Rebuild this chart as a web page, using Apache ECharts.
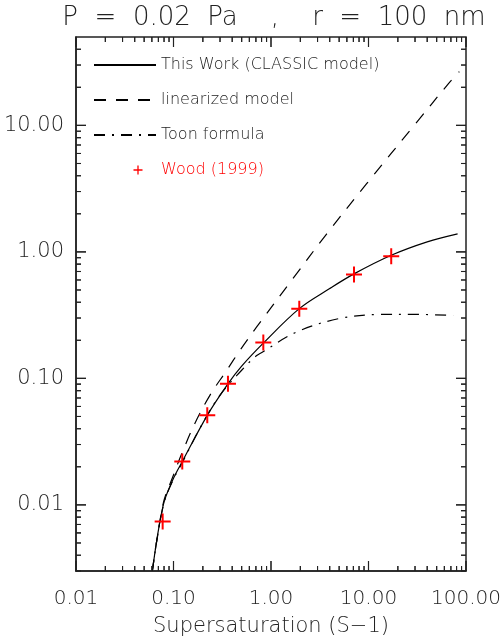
<!DOCTYPE html>
<html><head><meta charset="utf-8">
<script src="https://cdn.jsdelivr.net/npm/echarts@6/dist/echarts.min.js"></script>
<style>html,body{margin:0;padding:0;background:#fff}#c{width:502px;height:641px}</style>
</head><body><div id="c"></div><script>
// ---- data ----
const xMajorTicks = [0.01, 0.1, 1, 10, 100];
const xMinorTicks = [0.02,0.03,0.04,0.05,0.06,0.07,0.08,0.09, 0.2,0.3,0.4,0.5,0.6,0.7,0.8,0.9, 2,3,4,5,6,7,8,9, 20,30,40,50,60,70,80,90];
const yMajorTicks = [0.01, 0.1, 1, 10];
const yMinorTicks = [0.003,0.004,0.005,0.006,0.007,0.008,0.009, 0.02,0.03,0.04,0.05,0.06,0.07,0.08,0.09, 0.2,0.3,0.4,0.5,0.6,0.7,0.8,0.9, 2,3,4,5,6,7,8,9, 20,30,40];

const classicX = [0.0607, 0.0786, 0.1, 0.123, 0.222, 0.36, 0.5, 0.834, 1.95, 4, 7.1, 17.1, 40, 82];
const classicY = [0.003, 0.01, 0.0162, 0.022, 0.051, 0.09, 0.125, 0.19, 0.356, 0.513, 0.67, 0.94, 1.2, 1.39];

const linearX = [0.0607, 0.0786, 0.1, 0.123, 0.166, 0.237, 0.352, 0.481, 0.713, 1.69, 3.73, 9.57, 30, 65.8, 85.4];
const linearY = [0.003, 0.0103, 0.0172, 0.026, 0.0442, 0.0738, 0.116, 0.167, 0.255, 0.62, 1.39, 3.46, 10.2, 21.3, 26.6];

const toonX = [0.0607, 0.0786, 0.1, 0.123, 0.187, 0.3, 0.5, 0.686, 0.771, 1.84, 5.1, 13.1, 28.8, 74];
const toonY = [0.003, 0.0099, 0.016, 0.0215, 0.0405, 0.0738, 0.116, 0.148, 0.157, 0.233, 0.298, 0.320, 0.321, 0.314];

const woodX = [0.0774, 0.123, 0.222, 0.362, 0.834, 1.95, 7.1, 17.1];
const woodY = [0.00738, 0.0220, 0.0511, 0.0906, 0.192, 0.356, 0.662, 0.923];

const seriesNames = ['This Work (CLASSIC model)', 'linearized model', 'Toon formula', 'Wood (1999)'];
const titleText = 'P  =  0.02  Pa    ,    r  =  100  nm';
const xName = 'Supersaturation (S\u22121)';

// ---- chart ----
const FONT = 'DejaVu Sans';
const FW = 200;
const AX = '#222';
const X_MIN = 0.01, X_MAX = 100, Y_MIN = 0.003, Y_MAX = 50;
const MAJOR_LEN = 10, MINOR_LEN = 5;
const pairs = (xs, ys) => xs.map((x, i) => [x, ys[i]]);

const woodIcon = 'path://M0,0L0.01,0L0,0.01Z M62,14L61.99,14L62,13.99Z M39.5,6.35H48.5V7.65H39.5Z M43.35,2.5H44.65V11.5H43.35Z';
const plusSymbol = 'path://M0,7H16V9H0Z M7,0H9V16H7Z';
const HIDE = 'rgba(0,0,0,0)';

const baseSeries = [
  { name: seriesNames[0], type: 'line', data: pairs(classicX, classicY), symbol: 'none', smooth: 0.35,
    lineStyle: { color: '#000', width: 1.2, type: 'solid' }, itemStyle: { color: HIDE } },
  { name: seriesNames[1], type: 'line', data: pairs(linearX, linearY), symbol: 'none', smooth: 0.35,
    lineStyle: { color: '#000', width: 1.2, type: [12, 10] }, itemStyle: { color: HIDE } },
  { name: seriesNames[2], type: 'line', data: pairs(toonX, toonY), symbol: 'none', smooth: 0.35,
    lineStyle: { color: '#000', width: 1.2, type: [11, 7, 2, 7] }, itemStyle: { color: HIDE } },
  { name: seriesNames[3], type: 'scatter', data: pairs(woodX, woodY), symbol: plusSymbol, symbolSize: 16,
    itemStyle: { color: '#ff0000', opacity: 1 }, z: 5 }
];

const chart = echarts.init(document.getElementById('c'), null, { renderer: 'canvas' });
chart.setOption({
  animation: false,
  backgroundColor: '#fff',
  title: {
    text: titleText, left: 269, textAlign: 'center', top: 0,
    textStyle: { color: '#222', fontFamily: FONT, fontWeight: FW, fontSize: 26 }
  },
  grid: { left: 76, right: 36, top: 37, bottom: 70, outerBoundsMode: 'none',
          show: true, borderColor: AX, borderWidth: 1.5, backgroundColor: 'transparent' },
  legend: {
    orient: 'vertical', left: 88, top: 52, itemWidth: 62, itemHeight: 14, itemGap: 19,
    selectedMode: false,
    textStyle: { color: '#222', fontFamily: FONT, fontWeight: FW, fontSize: 16 },
    data: [
      { name: seriesNames[0] },
      { name: seriesNames[1] },
      { name: seriesNames[2] },
      { name: seriesNames[3], icon: woodIcon, textStyle: { color: '#ff0000' } }
    ]
  },
  xAxis: {
    type: 'log', logBase: 10, min: X_MIN, max: X_MAX,
    axisLine: { show: true, onZero: false, lineStyle: { color: AX, width: 1.5 } },
    axisTick: { show: false },
    axisLabel: {
      show: true, customValues: xMajorTicks, margin: 18,
      formatter: v => Number(v).toFixed(2),
      color: '#222', fontFamily: FONT, fontWeight: FW, fontSize: 20
    },
    splitLine: { show: false }, minorTick: { show: false },
    name: xName, nameLocation: 'middle', nameGap: 45,
    nameTextStyle: { color: '#222', fontFamily: FONT, fontWeight: FW, fontSize: 21 }
  },
  yAxis: {
    type: 'log', logBase: 10, min: Y_MIN, max: Y_MAX,
    axisLine: { show: true, onZero: false, lineStyle: { color: AX, width: 1.5 } },
    axisTick: { show: false },
    axisLabel: {
      show: true, customValues: yMajorTicks, margin: 12,
      formatter: v => Number(v).toFixed(2),
      color: '#222', fontFamily: FONT, fontWeight: FW, fontSize: 21
    },
    splitLine: { show: false }, minorTick: { show: false }
  },
  series: baseSeries
});

// ---- inward tick marks on all four sides, placed through the axes' own scales ----
const finder = { xAxisIndex: 0, yAxisIndex: 0 };
let cart = null;
try { cart = chart.getModel().getComponent('grid', 0).coordinateSystem.getCartesians()[0]; } catch (e) {}
const ok = p => p && isFinite(p[0]) && isFinite(p[1]);
const toPx = pt => {
  try { const p = chart.convertToPixel(finder, pt); if (ok(p)) return p; } catch (e) {}
  try { const p = cart.dataToPoint(pt); if (ok(p)) return p; } catch (e) {}
  return null;
};
const toData = px => {
  try { const d = chart.convertFromPixel(finder, px); if (ok(d)) return d; } catch (e) {}
  try { const d = cart.pointToData(px); if (ok(d)) return d; } catch (e) {}
  return null;
};

const tickDefs = [];
xMajorTicks.forEach(v => { tickDefs.push([[v, Y_MIN], 0, -MAJOR_LEN], [[v, Y_MAX], 0, MAJOR_LEN]); });
xMinorTicks.forEach(v => { tickDefs.push([[v, Y_MIN], 0, -MINOR_LEN], [[v, Y_MAX], 0, MINOR_LEN]); });
yMajorTicks.forEach(v => { tickDefs.push([[X_MIN, v], MAJOR_LEN, 0], [[X_MAX, v], -MAJOR_LEN, 0]); });
yMinorTicks.forEach(v => { tickDefs.push([[X_MIN, v], MINOR_LEN, 0], [[X_MAX, v], -MINOR_LEN, 0]); });

const segs = [];
const tickLines = [];
tickDefs.forEach(([pt, dx, dy]) => {
  const p = toPx(pt);
  if (!p) return;
  const q = [p[0] + dx, p[1] + dy];
  tickLines.push({
    type: 'line', z: 50,
    shape: { x1: p[0], y1: p[1], x2: q[0], y2: q[1] },
    style: { stroke: AX, lineWidth: 1.1 }
  });
  const d = toData(q);
  if (d) segs.push([pt[0], pt[1]], [d[0], d[1]], null);
});

const extraSeries = segs.length ? [{
  name: 'axis ticks', type: 'line', data: segs, symbol: 'none', showSymbol: false,
  connectNulls: false, smooth: false,
  lineStyle: { color: AX, width: 1.1, type: 'solid' }, itemStyle: { color: HIDE }, z: 4
}] : [];

chart.setOption({
  series: baseSeries.concat(extraSeries),
  graphic: { elements: tickLines }
});
</script></body></html>
